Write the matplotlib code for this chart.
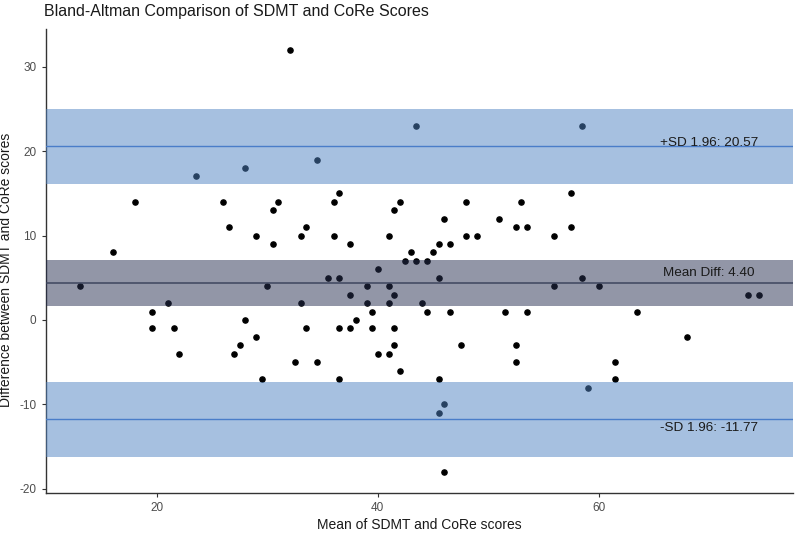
import matplotlib
matplotlib.use('Agg')
import matplotlib.pyplot as plt

plt.rcParams['font.family'] = ['Liberation Sans', 'DejaVu Sans']
plt.rcParams['axes.unicode_minus'] = False

# Mean of the two scores and their difference, one entry per subject
mean_scores = [32, 23.5, 28, 18, 26, 31, 30.5, 26.5, 29, 30.5, 33, 16,
               43.5, 34.5, 36.5, 36, 42, 41.5, 48, 53, 33.5, 36, 37.5, 41,
               46, 45.5, 46.5, 48, 49, 51, 52.5, 53.5, 43, 45, 42.5, 43.5,
               44.5, 40, 58.5, 57.5, 56, 57.5, 13, 30, 21, 33, 19.5, 19.5,
               21.5, 28, 22, 29, 27.5, 27, 32.5, 29.5, 35.5, 36.5, 45.5, 39,
               41, 37.5, 41.5, 39, 41, 44, 39.5, 44.5, 46.5, 51.5, 53.5, 38,
               33.5, 36.5, 37.5, 39.5, 41.5, 41.5, 47.5, 52.5, 40, 41, 34.5,
               52.5, 42, 36.5, 45.5, 46, 45.5, 46, 58.5, 56, 60, 73.5, 74.5,
               63.5, 68, 61.5, 61.5, 59]
diff_scores = [32, 17, 18, 14, 14, 14, 13, 11, 10, 9, 10, 8,
               23, 19, 15, 14, 14, 13, 14, 14, 11, 10, 9, 10,
               12, 9, 9, 10, 10, 12, 11, 11, 8, 8, 7, 7,
               7, 6, 23, 15, 10, 11, 4, 4, 2, 2, 1, -1,
               -1, 0, -4, -2, -3, -4, -5, -7, 5, 5, 5, 4,
               4, 3, 3, 2, 2, 2, 1, 1, 1, 1, 1, 0,
               -1, -1, -1, -1, -1, -3, -3, -3, -4, -4, -5,
               -5, -6, -7, -7, -10, -11, -18, 5, 4, 4, 3, 3,
               1, -2, -5, -7, -8]

mean_diff = 4.40
upper_loa = 20.57
lower_loa = -11.77
# confidence bands around each line
mean_ci = (1.66, 7.10)
upper_ci = (16.1, 25.0)
lower_ci = (-16.25, -7.3)

fig, ax = plt.subplots(figsize=(8, 5.33), dpi=100)
fig.subplots_adjust(left=0.057, right=0.991, top=0.946, bottom=0.075)

ax.scatter(mean_scores, diff_scores, s=14, color='black', zorder=2)

# shaded bands are drawn on top of the points
ax.axhspan(*upper_ci, color='#4F83C3', alpha=0.5, lw=0, zorder=3)
ax.axhspan(*lower_ci, color='#4F83C3', alpha=0.5, lw=0, zorder=3)
ax.axhspan(*mean_ci, color='#272F50', alpha=0.5, lw=0, zorder=3)

ax.axhline(upper_loa, color='#4A7DC9', lw=1, zorder=4)
ax.axhline(lower_loa, color='#4A7DC9', lw=1, zorder=4)
ax.axhline(mean_diff, color='#3E465E', lw=1.1, zorder=4)

ax.text(70, upper_loa - 0.3, '+SD 1.96: %.2f' % upper_loa, ha='center', va='bottom',
        fontsize=9.7, color='#1a1a1a', zorder=5)
ax.text(70, mean_diff + 0.5, 'Mean Diff: %.2f' % mean_diff, ha='center', va='bottom',
        fontsize=9.7, color='#1a1a1a', zorder=5)
ax.text(70, lower_loa - 0.3, '-SD 1.96: %.2f' % lower_loa, ha='center', va='top',
        fontsize=9.7, color='#1a1a1a', zorder=5)

ax.set_xlim(9.9, 77.6)
ax.set_ylim(-20.5, 34.5)
ax.set_xticks([20, 40, 60])
ax.set_yticks([-20, -10, 0, 10, 20, 30])

ax.spines['top'].set_visible(False)
ax.spines['right'].set_visible(False)
for side in ['left', 'bottom']:
    ax.spines[side].set_color('#333333')
    ax.spines[side].set_linewidth(1)
ax.tick_params(colors='#333333', labelcolor='#4D4D4D', labelsize=8.5, length=3)

ax.set_title('Bland-Altman Comparison of SDMT and CoRe Scores', loc='left',
             fontsize=11.5, color='#1a1a1a', x=-0.002, pad=9)
ax.set_xlabel('Mean of SDMT and CoRe scores', fontsize=10, color='#1a1a1a', labelpad=3)
ax.set_ylabel('Difference between SDMT and CoRe scores', fontsize=10, color='#1a1a1a')
ax.yaxis.set_label_coords(-0.044, 0.48)

plt.savefig('out.png', dpi=100)
